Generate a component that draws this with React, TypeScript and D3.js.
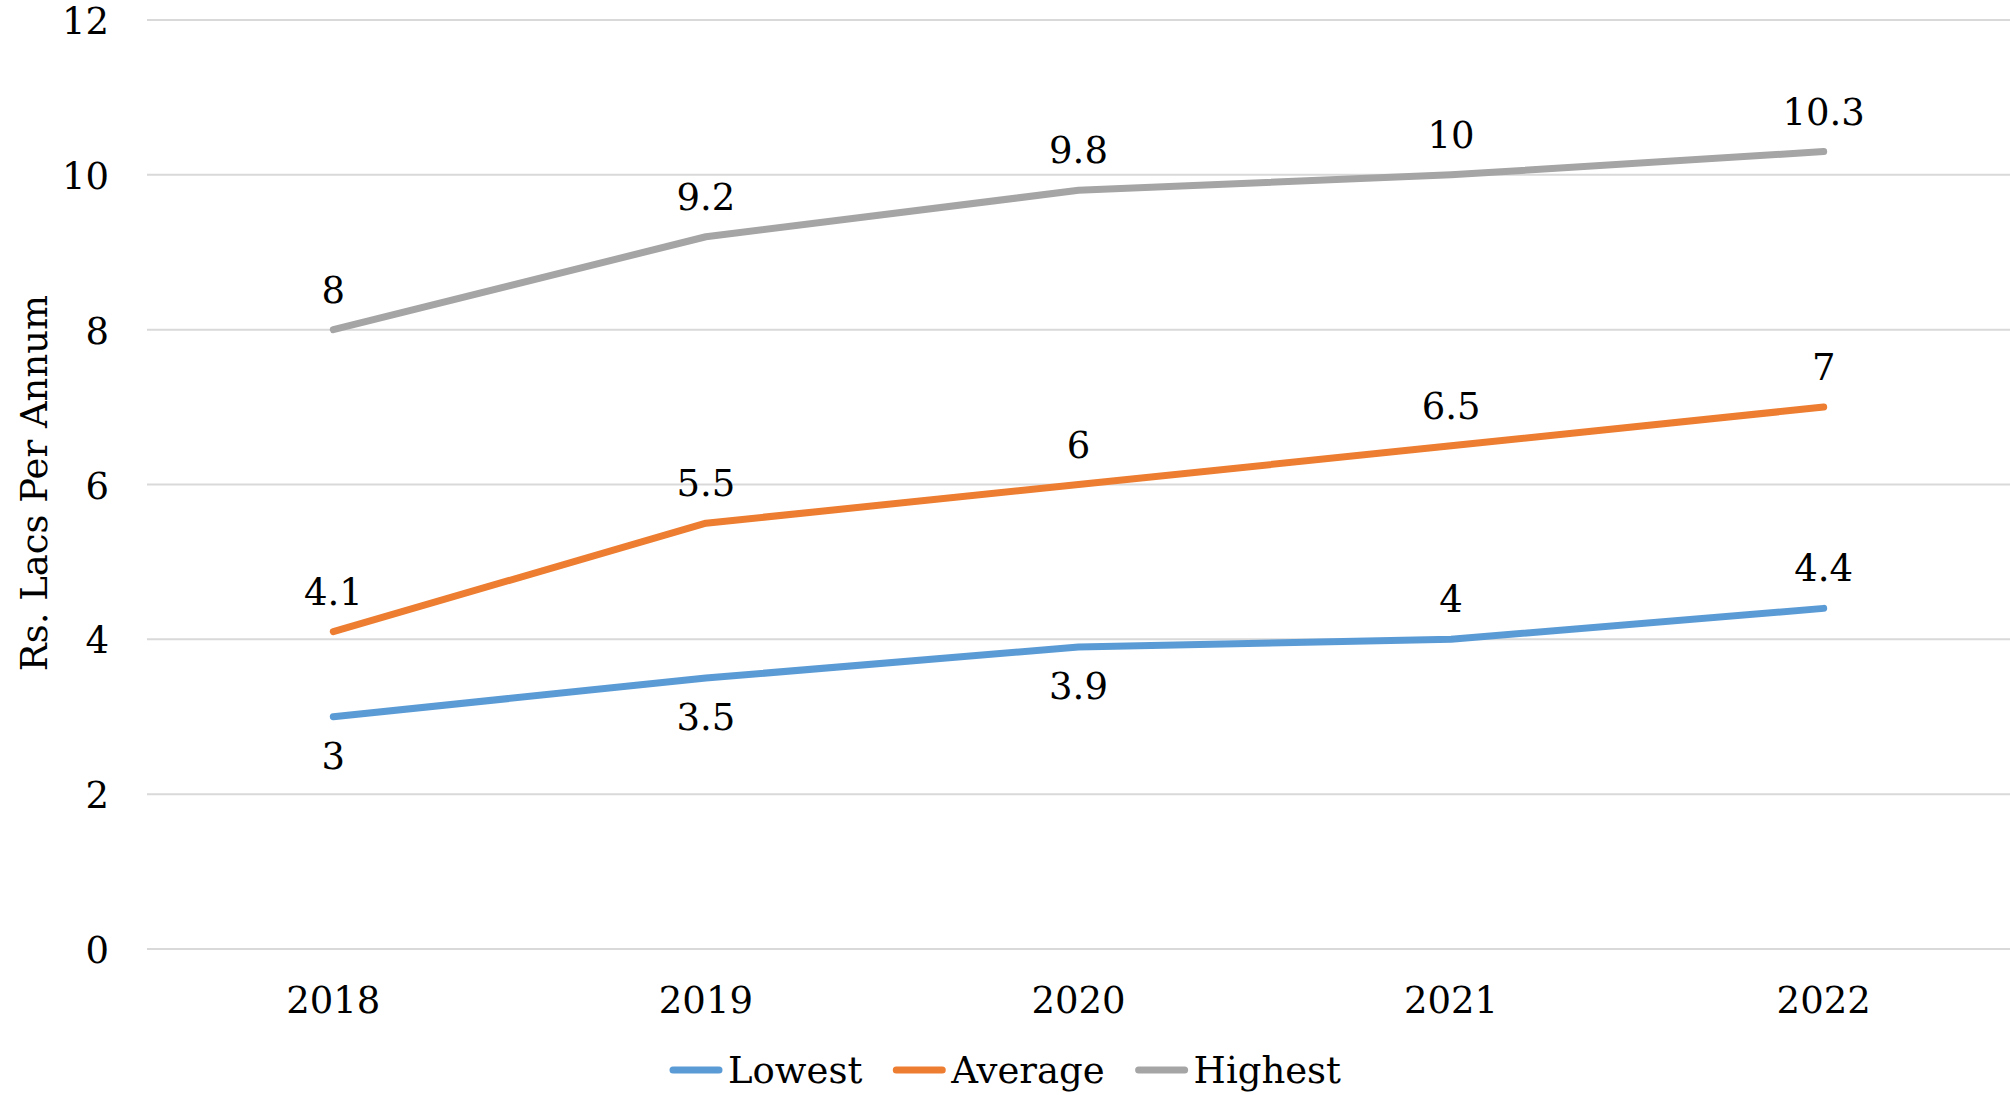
import React from 'react'
import * as d3 from 'd3'

const years = ['2018', '2019', '2020', '2021', '2022']
const lowest = [3, 3.5, 3.9, 4, 4.4]
const average = [4.1, 5.5, 6, 6.5, 7]
const highest = [8, 9.2, 9.8, 10, 10.3]
const yTicks = [0, 2, 4, 6, 8, 10, 12]
// where each data label sits relative to its point
const lowestSides = ['below', 'below', 'below', 'above', 'above']
const averageSides = ['above', 'above', 'above', 'above', 'above']
const highestSides = ['above', 'above', 'above', 'above', 'above']

const series = [
  { name: 'Lowest', values: lowest, color: '#5B9BD5', sides: lowestSides },
  { name: 'Average', values: average, color: '#ED7D31', sides: averageSides },
  { name: 'Highest', values: highest, color: '#A5A5A5', sides: highestSides }
]

const width = 2010
const height = 1095
const margin = { top: 20, right: 0, bottom: 146, left: 147 }
const font = 'DejaVu Serif, serif'
const fontSize = 37

const measure = (text: string) => {
  const ctx = document.createElement('canvas').getContext('2d')
  if (!ctx) return text.length * fontSize * 0.6
  ctx.font = `${fontSize}px ${font}`
  return ctx.measureText(text).width
}

export default function App() {
  const x = d3.scalePoint<string>()
    .domain(years)
    .range([margin.left, width - margin.right])
    .padding(0.5)

  const y = d3.scaleLinear()
    .domain([0, 12])
    .range([height - margin.bottom, margin.top])

  const line = d3.line<number>()
    .x((_, i) => x(years[i]) as number)
    .y(d => y(d))

  // Legend layout, centred under the chart
  const swatch = 54
  const swatchGap = 5
  const itemGap = 30
  const itemWidths = series.map(s => swatch + swatchGap + measure(s.name))
  const legendWidth = d3.sum(itemWidths) + itemGap * (series.length - 1)
  let cursor = width / 2 - legendWidth / 2
  const legendItems = series.map((s, i) => {
    const x0 = cursor
    cursor += itemWidths[i] + itemGap
    return { ...s, x0 }
  })
  const legendY = 1070

  return (
    <div style={{ position: 'absolute', left: 0, top: 0 }}>
      <svg width={width} height={height} style={{ display: 'block', background: '#fff' }}
        fontFamily={font} fontSize={fontSize}>
        {/* gridlines */}
        {yTicks.map(t => (
          <line key={t} x1={margin.left} x2={width - margin.right} y1={y(t)} y2={y(t)}
            stroke="#D9D9D9" strokeWidth={2} />
        ))}
        {/* y tick labels */}
        {yTicks.map(t => (
          <text key={t} x={109} y={y(t) + 14} textAnchor="end" fill="#000">{t}</text>
        ))}
        {/* x tick labels */}
        {years.map(yr => (
          <text key={yr} x={x(yr)} y={1013} textAnchor="middle" fill="#000">{yr}</text>
        ))}
        {/* y axis title */}
        <text transform={`translate(47, 483) rotate(-90)`} textAnchor="middle" fill="#000">
          Rs. Lacs Per Annum
        </text>
        {/* lines */}
        {series.map(s => (
          <path key={s.name} d={line(s.values) || ''} fill="none" stroke={s.color}
            strokeWidth={7} strokeLinecap="round" strokeLinejoin="round" />
        ))}
        {/* data labels */}
        {series.map(s => s.values.map((v, i) => (
          <text key={s.name + i} x={x(years[i])} y={y(v) + (s.sides[i] === 'below' ? 52 : -27)}
            textAnchor="middle" fill="#000">{v}</text>
        )))}
        {/* legend */}
        {legendItems.map(s => (
          <g key={s.name}>
            <line x1={s.x0 + 4} x2={s.x0 + swatch - 4} y1={legendY} y2={legendY}
              stroke={s.color} strokeWidth={7} strokeLinecap="round" />
            <text x={s.x0 + swatch + swatchGap} y={legendY + 13} fill="#000">{s.name}</text>
          </g>
        ))}
      </svg>
    </div>
  )
}
